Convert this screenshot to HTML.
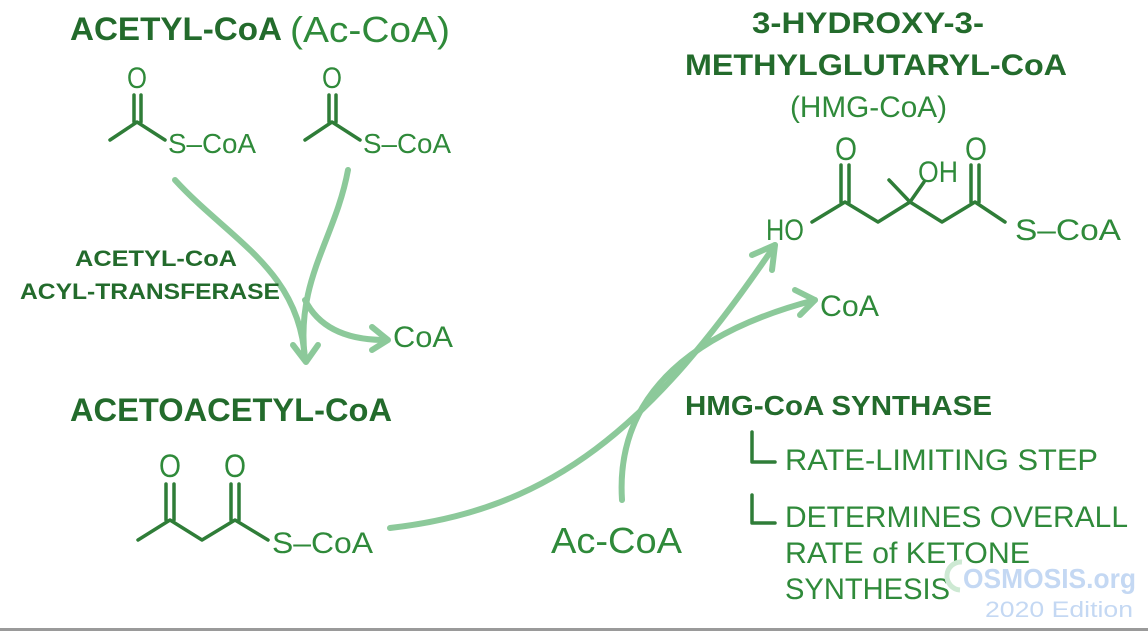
<!DOCTYPE html>
<html><head><meta charset="utf-8"><style>
html,body{margin:0;padding:0;background:#fff;}
svg{display:block;}
text{font-family:"Liberation Sans",sans-serif;}
.d{fill:#236b2c;font-weight:bold;}
.m{fill:#2f8a3a;}
.b{stroke:#2f7d38;stroke-width:3.5;fill:none;stroke-linecap:round;stroke-linejoin:round;}
.a{stroke:#8cc99a;stroke-width:6;fill:none;stroke-linecap:round;stroke-linejoin:round;}
</style></head><body>
<svg width="1148" height="631" viewBox="0 0 1148 631" xmlns="http://www.w3.org/2000/svg">
<rect width="1148" height="631" fill="#fff"/>
<text class="d" x="70" y="40" font-size="32" textLength="212" lengthAdjust="spacingAndGlyphs">ACETYL-CoA</text>
<text class="m" x="290" y="42" font-size="36" textLength="160" lengthAdjust="spacingAndGlyphs">(Ac-CoA)</text>
<text class="m" x="127" y="88" font-size="30" textLength="20" lengthAdjust="spacingAndGlyphs">O</text>
<path class="b" d="M134 95V122M141 95V122M110 140L137 122L165 140"/>
<text class="m" x="168" y="153" font-size="28" textLength="88" lengthAdjust="spacingAndGlyphs">S–CoA</text>
<text class="m" x="322" y="88" font-size="30" textLength="20" lengthAdjust="spacingAndGlyphs">O</text>
<path class="b" d="M329 95V122M336 95V122M305 140L332 122L360 140"/>
<text class="m" x="363" y="153" font-size="28" textLength="88" lengthAdjust="spacingAndGlyphs">S–CoA</text>
<path class="a" d="M175 180C230 240 300 270 305 360"/>
<path class="a" d="M348 170C335 240 295 280 305 360"/>
<path class="a" d="M293 345L306 362L318 345"/>
<path class="a" d="M305 300C320 330 350 340 385 340"/>
<path class="a" d="M372 327L388 340L372 350"/>
<text class="d" x="75" y="266" font-size="22" textLength="162" lengthAdjust="spacingAndGlyphs">ACETYL-CoA</text>
<text class="d" x="20" y="299" font-size="22" textLength="260" lengthAdjust="spacingAndGlyphs">ACYL-TRANSFERASE</text>
<text class="m" x="393" y="347" font-size="30" textLength="60" lengthAdjust="spacingAndGlyphs">CoA</text>
<text class="d" x="70" y="421" font-size="32" textLength="322" lengthAdjust="spacingAndGlyphs">ACETOACETYL-CoA</text>
<text class="m" x="159" y="477" font-size="32" textLength="22" lengthAdjust="spacingAndGlyphs">O</text>
<text class="m" x="224" y="477" font-size="32" textLength="22" lengthAdjust="spacingAndGlyphs">O</text>
<path class="b" d="M166 484V520M174 484V520M231 484V520M239 484V520M138 540L170 520L202 540L235 520L268 540"/>
<text class="m" x="272" y="553" font-size="30" textLength="101" lengthAdjust="spacingAndGlyphs">S–CoA</text>
<path class="a" d="M390 528C550 510 650 430 775 245"/>
<path class="a" d="M752 255L775 245L772 270"/>
<path class="a" d="M622 500C615 390 700 330 815 300"/>
<path class="a" d="M795 290L815 300L800 315"/>
<text class="m" x="551" y="553" font-size="36" textLength="131" lengthAdjust="spacingAndGlyphs">Ac-CoA</text>
<text class="m" x="820" y="316" font-size="30" textLength="59" lengthAdjust="spacingAndGlyphs">CoA</text>
<text class="d" x="752" y="33" font-size="30" textLength="232" lengthAdjust="spacingAndGlyphs">3-HYDROXY-3-</text>
<text class="d" x="685" y="75" font-size="30" textLength="382" lengthAdjust="spacingAndGlyphs">METHYLGLUTARYL-CoA</text>
<text class="m" x="790" y="117" font-size="30" textLength="157" lengthAdjust="spacingAndGlyphs">(HMG-CoA)</text>
<text class="m" x="766" y="240" font-size="30" textLength="38" lengthAdjust="spacingAndGlyphs">HO</text>
<text class="m" x="835" y="160" font-size="32" textLength="22" lengthAdjust="spacingAndGlyphs">O</text>
<text class="m" x="965" y="160" font-size="32" textLength="22" lengthAdjust="spacingAndGlyphs">O</text>
<text class="m" x="918" y="182" font-size="30" textLength="40" lengthAdjust="spacingAndGlyphs">OH</text>
<path class="b" d="M841 165V202M849 165V202M971 165V202M979 165V202M812 222L845 202L878 222L910 202L942 222L975 202L1005 222M910 202L889 180M910 202L924 182"/>
<text class="m" x="1015" y="240" font-size="30" textLength="106" lengthAdjust="spacingAndGlyphs">S–CoA</text>
<text class="d" x="685" y="415" font-size="28" textLength="307" lengthAdjust="spacingAndGlyphs">HMG-CoA SYNTHASE</text>
<path class="b" d="M752 432V462H775M752 495V523H775"/>
<text class="m" x="785" y="470" font-size="30" textLength="313" lengthAdjust="spacingAndGlyphs">RATE-LIMITING STEP</text>
<text class="m" x="785" y="527" font-size="30" textLength="343" lengthAdjust="spacingAndGlyphs">DETERMINES OVERALL</text>
<text class="m" x="785" y="563" font-size="30" textLength="245" lengthAdjust="spacingAndGlyphs">RATE of KETONE</text>
<text class="m" x="785" y="599" font-size="30" textLength="165" lengthAdjust="spacingAndGlyphs">SYNTHESIS</text>
<path d="M962 562A14 14 0 1 0 960 590" stroke="#cde9d3" stroke-width="5" fill="none"/>
<text x="963" y="588" font-size="28" font-weight="bold" fill="#c4d8f3" textLength="173" lengthAdjust="spacingAndGlyphs">OSMOSIS.org</text>
<text x="985" y="617" font-size="22" fill="#c4d8f3" textLength="148" lengthAdjust="spacingAndGlyphs">2020 Edition</text>
<rect x="0" y="628" width="1148" height="3" fill="#9a9a9a"/>
</svg>
</body></html>
